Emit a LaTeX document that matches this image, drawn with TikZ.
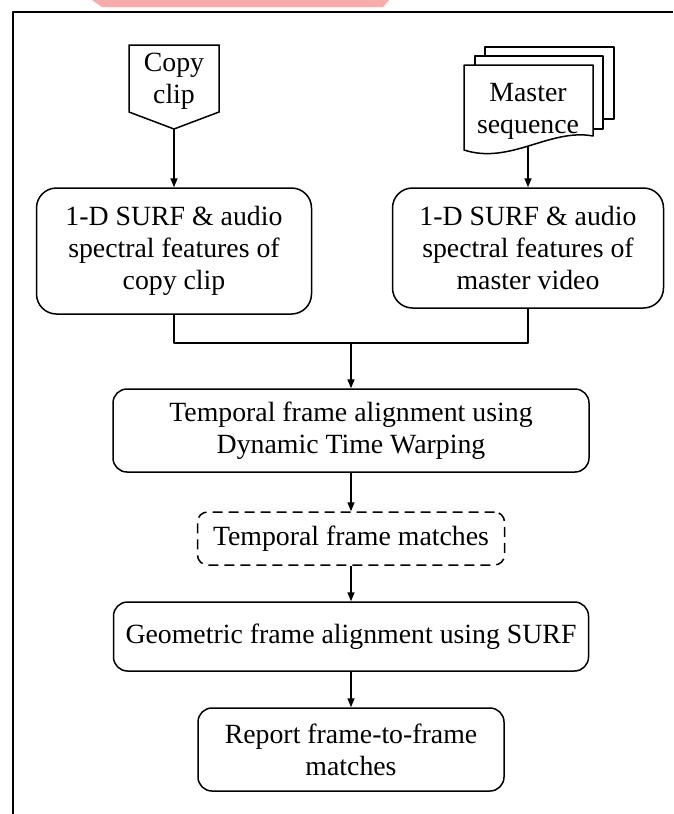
\documentclass[tikz,border=0pt]{standalone}
\usepackage{fontspec}
\setmainfont{Liberation Serif}
\usetikzlibrary{arrows.meta}
\definecolor{wmpink}{RGB}{246,172,170}
\tikzset{
  every node/.style={font=\fontsize{27.8}{32}\selectfont, align=center, inner sep=0pt},
  ln/.style={line width=1.5pt, line join=round},
  box/.style={draw, ln, rounded corners=14pt},
  arr/.style={ln, -{Triangle[length=9pt,width=7pt]}},
}
\begin{document}
\begin{tikzpicture}[x=1pt,y=-1pt]
  \useasboundingbox (0,0) rectangle (673,814);
  \fill[white] (0,0) rectangle (673,814);
  % pink band at the top edge
  \fill[wmpink] (92,0) -- (389,0) -- (383,7) -- (102,7) -- cycle;
  % frame
  \draw[ln] (673,12) -- (13,12) -- (13,814);

  % copy clip (off-page connector)
  \draw[ln, line join=miter] (129,45) -- (219,45) -- (219,112) -- (174,129) -- (129,112) -- cycle;
  \node (cc) at (174,81) {Copy\\clip};
  \coordinate (cctip) at (174,129);

  % master sequence (stacked documents)
  \draw[ln, fill=white] (485,47) rectangle (614,119);
  \draw[ln, fill=white] (475,56) rectangle (603,129);
  \draw[ln, fill=white] (464,65) -- (593,65) -- (593,136)
        .. controls (550,128) and (510,165) .. (464,150) -- cycle;
  \node (ms) at (528,111) {Master\\sequence};
  \coordinate (mstip) at (528,146);

  % process boxes
  \node[box, rounded corners=20pt, minimum width=275pt, minimum height=126pt] (lf) at (174,251)
       {1-D SURF \& audio\\spectral features of\\copy clip};
  \node[box, rounded corners=20pt, minimum width=271pt, minimum height=120pt] (rf) at (528,248)
       {1-D SURF \& audio\\spectral features of\\master video};
  \node[box, minimum width=476pt, minimum height=83pt] (tp) at (351,430.5)
       {Temporal frame alignment using\\Dynamic Time Warping};
  \node[draw, ln, dash pattern=on 10pt off 6pt, rounded corners=10pt,
        minimum width=307pt, minimum height=53pt] (tm) at (351,538.5)
       {Temporal frame matches};
  \node[box, minimum width=475pt, minimum height=69pt] (gm) at (351,636.5)
       {Geometric frame alignment using SURF};
  \node[box, minimum width=306pt, minimum height=83pt] (rp) at (351,749.5)
       {Report frame-to-frame\\matches};

  % connectors
  \coordinate (jn) at (351,343);
  \draw[arr] (cctip) -- (lf.north);
  \draw[arr] (mstip) -- (rf.north);
  \draw[ln] (lf.south) |- (jn);
  \draw[ln] (rf.south) |- (jn);
  \draw[arr] (jn) -- (tp.north);
  \draw[arr] (tp.south) -- (tm.north);
  \draw[arr] (tm.south) -- (gm.north);
  \draw[arr] (gm.south) -- (rp.north);
\end{tikzpicture}
\end{document}
